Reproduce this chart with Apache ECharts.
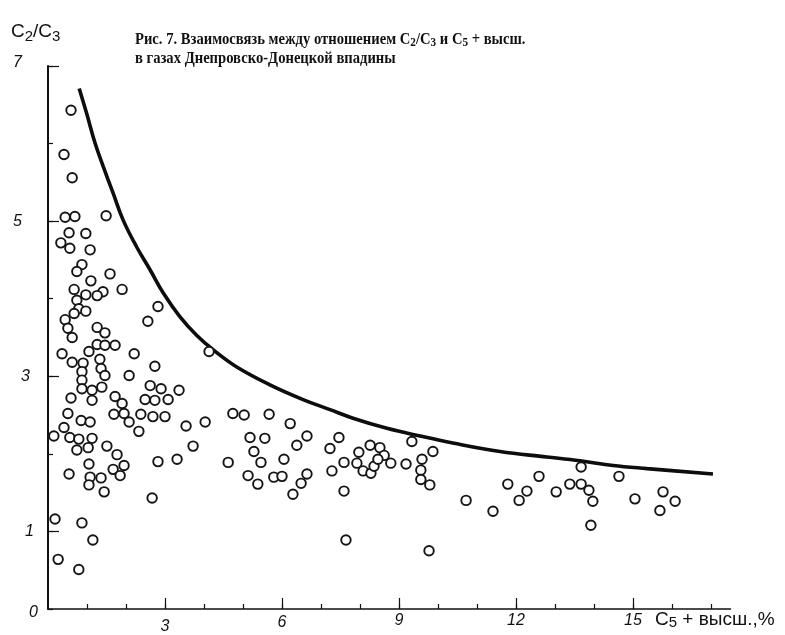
<!DOCTYPE html>
<html>
<head>
<meta charset="utf-8">
<script src="https://cdn.jsdelivr.net/npm/echarts@6/dist/echarts.min.js"></script>
<style>
  html, body { margin: 0; padding: 0; background: #fff; }
  #chart { width: 785px; height: 635px; }
</style>
</head>
<body>
<div id="chart"></div>
<script>
// C5+ высш., % (ось X) и C2/C3 (ось Y) для каждой точки
var c5Values = [
  0.59, 0.41, 0.62, 0.44, 0.69, 1.49, 0.54, 0.97, 0.33, 0.56,
  1.08, 0.87, 0.74, 1.59, 1.10, 0.67, 1.90, 0.97, 1.41, 1.26,
  0.74, 0.79, 0.97, 0.67, 2.82, 0.44, 2.56, 0.51, 1.26, 1.46,
  0.62, 0.36, 1.05, 1.26, 1.46, 1.72, 2.21, 0.62, 0.90, 1.33,
  2.74, 0.87, 1.36, 1.46, 2.08, 0.87, 0.87, 1.13, 1.38, 2.62,
  2.90, 3.36, 0.59, 1.13, 1.72, 1.90, 2.49, 2.74, 3.08, 0.51,
  0.85, 1.08, 1.69, 1.95, 2.08, 2.38, 2.69, 3.00, 2.33, 0.15,
  0.41, 0.56, 0.79, 1.13, 1.03, 0.74, 1.51, 1.77, 1.05, 1.95,
  1.67, 1.85, 2.82, 3.31, 0.54, 1.08, 1.36, 1.05, 1.44, 2.67,
  0.18, 0.87, 1.15, 0.26, 0.79, 4.13, 3.54, 4.03, 4.74, 5.03,
  5.67, 6.21, 3.72, 5.18, 5.56, 6.64, 6.38, 5.28, 4.62, 5.46,
  6.05, 7.23, 7.28, 5.13, 5.38, 5.79, 6.00, 6.64, 6.49, 6.28,
  7.46, 7.59, 7.59, 7.97, 8.26, 8.51, 8.62, 7.92, 8.08, 8.28,
  8.36, 8.46, 8.79, 9.18, 9.33, 9.87, 9.59, 9.56, 9.56, 9.79,
  7.64, 9.77, 10.72, 11.41, 11.79, 12.08, 12.28, 12.59, 13.03, 13.38,
  13.67, 13.87, 13.97, 13.67, 13.92, 14.64, 15.05, 15.77, 16.08, 15.69
];
var c2c3Values = [
  6.43, 5.86, 5.56, 5.05, 5.06, 5.07, 4.85, 4.84, 4.72, 4.65,
  4.63, 4.44, 4.35, 4.32, 4.23, 4.12, 4.12, 4.05, 4.09, 4.04,
  3.98, 3.87, 3.84, 3.81, 3.90, 3.73, 3.71, 3.62, 3.63, 3.56,
  3.50, 3.29, 3.32, 3.41, 3.40, 3.40, 3.29, 3.18, 3.17, 3.22,
  3.13, 3.06, 3.10, 3.01, 3.01, 2.95, 2.84, 2.82, 2.86, 2.88,
  2.84, 2.82, 2.72, 2.69, 2.74, 2.65, 2.70, 2.69, 2.70, 2.52,
  2.43, 2.41, 2.51, 2.52, 2.41, 2.51, 2.48, 2.48, 2.29, 2.23,
  2.34, 2.21, 2.19, 2.20, 2.08, 2.05, 2.10, 1.99, 1.87, 1.85,
  1.80, 1.72, 1.90, 1.93, 1.74, 1.70, 1.69, 1.60, 1.51, 1.43,
  1.16, 1.11, 0.89, 0.64, 0.51, 3.32, 2.36, 2.41, 2.52, 2.50,
  2.51, 2.39, 2.10, 2.21, 2.20, 2.23, 2.11, 2.03, 1.89, 1.89,
  1.93, 2.07, 1.78, 1.72, 1.61, 1.70, 1.71, 1.74, 1.62, 1.48,
  2.21, 1.89, 1.52, 2.02, 2.11, 2.08, 1.98, 1.88, 1.78, 1.75,
  1.84, 1.93, 1.88, 1.87, 2.16, 2.03, 1.93, 1.79, 1.67, 1.60,
  0.89, 0.75, 1.40, 1.26, 1.61, 1.40, 1.52, 1.71, 1.51, 1.61,
  1.61, 1.53, 1.39, 1.83, 1.08, 1.71, 1.42, 1.51, 1.39, 1.27
];

// огибающая кривая
var curveX = [0.80, 0.99, 1.21, 1.42, 1.67, 1.93, 2.27, 2.62, 2.96, 3.38, 3.81, 4.24, 4.84,
  5.69, 6.54, 7.23, 7.82, 8.69, 9.54, 10.38, 11.59, 12.79, 13.64, 14.49, 15.36, 17.05];
var curveY = [6.71, 6.39, 6.00, 5.70, 5.36, 5.01, 4.67, 4.37, 4.07, 3.77, 3.53, 3.34, 3.12,
  2.89, 2.70, 2.57, 2.46, 2.33, 2.23, 2.14, 2.03, 1.96, 1.91, 1.85, 1.81, 1.74];

var xTickLabels = [3, 6, 9, 12, 15];
var yTickLabels = [0, 1, 3, 5, 7];

var chart = echarts.init(document.getElementById('chart'));

var points = c5Values.map(function (x, i) { return [x, c2c3Values[i]]; });
var curve = curveX.map(function (x, i) { return [x, curveY[i]]; });

// категории для засечек (шаг 0.5 по X, шаг 1 по Y)
var halfSteps = [];
for (var i = 0; i <= 35; i++) halfSteps.push(String(i / 2));
var ySteps = ['0', '1', '2', '3', '4', '5', '6', '7'];

var plotH = 543;

var tickFont = {
  fontFamily: 'Liberation Sans',
  fontStyle: 'italic',
  fontSize: 16,
  color: '#111'
};

var option = {
  backgroundColor: '#fff',
  animation: false,
  grid: {
    left: 48, top: 66, width: 682.5, height: plotH,
    outerBoundsMode: 'none'
  },
  xAxis: [
    {
      type: 'value', min: 0, max: 17.5, interval: 1, position: 'bottom',
      splitLine: { show: false },
      axisLine: { show: true, lineStyle: { color: '#111', width: 1.5 } },
      axisTick: { show: false },
      axisLabel: {
        margin: 4,
        formatter: function (v) {
          if (xTickLabels.indexOf(v) < 0) return '';
          return '{x' + v + '|' + v + '}';
        },
        rich: {
          x3: Object.assign({ padding: [6, 0, 0, 0] }, tickFont),
          x6: Object.assign({ padding: [2, 0, 0, 0] }, tickFont),
          x9: Object.assign({}, tickFont),
          x12: Object.assign({}, tickFont),
          x15: Object.assign({}, tickFont)
        }
      }
    },
    // засечки: верхние оси, сдвинутые вниз на высоту поля
    {
      type: 'category', data: halfSteps, boundaryGap: false, position: 'top', offset: -plotH,
      axisLine: { show: false },
      axisLabel: { show: false },
      axisTick: {
        show: true, inside: false, length: 5,
        lineStyle: { color: '#111', width: 1.2 },
        interval: function (idx) { return idx > 0 && idx % 2 === 0; }
      }
    },
    {
      type: 'category', data: halfSteps, boundaryGap: false, position: 'top', offset: -plotH,
      axisLine: { show: false },
      axisLabel: { show: false },
      axisTick: {
        show: true, inside: false, length: 11,
        lineStyle: { color: '#111', width: 1.2 },
        interval: function (idx) { return idx > 0 && idx % 6 === 0; }
      }
    }
  ],
  yAxis: [
    {
      type: 'value', min: 0, max: 7, interval: 1,
      splitLine: { show: false },
      axisLine: { show: true, lineStyle: { color: '#111', width: 2 } },
      axisTick: { show: true, inside: true, length: 5, lineStyle: { color: '#111', width: 1.2 } },
      axisLabel: {
        margin: 10,
        formatter: function (v) {
          if (yTickLabels.indexOf(v) < 0) return '';
          return '{y' + v + '|' + v + '}';
        },
        rich: {
          y0: Object.assign({ padding: [8, 0, 0, 0] }, tickFont),
          y1: Object.assign({ padding: [0, 4, 0, 0] }, tickFont),
          y3: Object.assign({ padding: [0, 8, 0, 0] }, tickFont),
          y5: Object.assign({ padding: [0, 16, 0, 0] }, tickFont),
          y7: Object.assign({ padding: [0, 16, 6, 0] }, tickFont)
        }
      }
    },
    {
      type: 'category', data: ySteps, boundaryGap: false, position: 'left',
      axisLine: { show: false },
      axisLabel: { show: false },
      axisTick: {
        show: true, inside: true, length: 11,
        lineStyle: { color: '#111', width: 1.2 },
        interval: function (idx) { return idx % 2 === 1; }
      }
    }
  ],
  graphic: [
    {
      type: 'text', x: 135, y: 30, scaleX: 0.86,
      style: {
        text: 'Рис. 7. Взаимосвязь между отношением C{s|2}/C{s|3} и C{s|5} + высш.\nв газах Днепровско-Донецкой впадины',
        font: 'bold 17px "Liberation Serif"',
        fill: '#111',
        lineHeight: 19,
        rich: {
          s: { font: 'bold 13px "Liberation Serif"', fill: '#111', verticalAlign: 'bottom', padding: [6, 0, 0, 0], lineHeight: 19 }
        }
      }
    },
    {
      type: 'text', x: 11, y: 20,
      style: {
        text: 'C{s|2}/C{s|3}',
        font: '19px "Liberation Sans"',
        fill: '#111',
        lineHeight: 24,
        rich: {
          s: { font: '15px "Liberation Sans"', fill: '#111', verticalAlign: 'bottom', padding: [8, 0, 0, 0], lineHeight: 24 }
        }
      }
    },
    {
      type: 'text', x: 655, y: 610,
      style: {
        text: 'C{s|5} + высш.,%',
        font: '19px "Liberation Sans"',
        fill: '#111',
        lineHeight: 20,
        rich: {
          s: { font: '15px "Liberation Sans"', fill: '#111', verticalAlign: 'bottom', padding: [7, 0, 0, 0], lineHeight: 20 }
        }
      }
    }
  ],
  series: [
    {
      type: 'scatter',
      data: points,
      symbol: 'circle',
      symbolSize: 9.5,
      itemStyle: { color: '#fff', borderColor: '#151515', borderWidth: 1.9, opacity: 1 },
      z: 3
    },
    {
      type: 'line',
      data: curve,
      smooth: 0.4,
      symbol: 'none',
      lineStyle: { color: '#0d0d0d', width: 3.6 },
      z: 2
    }
  ]
};

chart.setOption(option);
</script>
</body>
</html>
